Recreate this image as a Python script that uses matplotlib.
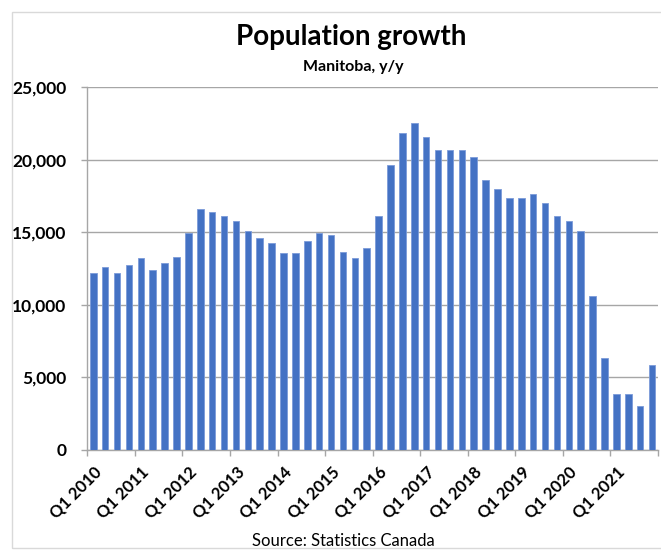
import matplotlib
matplotlib.use("Agg")
import matplotlib.pyplot as plt
from matplotlib.patches import Rectangle
import numpy as np

plt.rcParams['font.family'] = ['Lato', 'DejaVu Sans']

years = list(range(2010, 2022))
quarters = [f"Q{q} {y}" for y in years for q in (1, 2, 3, 4)]
values = [12180, 12610, 12180, 12750, 13210, 12410, 12870, 13330,
          14960, 16610, 16380, 16130, 15790, 15070, 14590, 14250,
          13560, 13560, 14380, 14960, 14820, 13670, 13210, 13900,
          16130, 19650, 21850, 22540, 21600, 20680, 20680, 20680,
          20220, 18590, 17990, 17390, 17390, 17650, 17050, 16130,
          15790, 15070, 10640, 6320, 3860, 3860, 3030, 5860]
yticks = [0, 5000, 10000, 15000, 20000, 25000]

W, H = 661, 550
fig = plt.figure(figsize=(W / 100, H / 100), dpi=100)

# chart-area frame
fig.patches.append(Rectangle((12 / W, 1 - 548 / H), 1.2, (548 - 12) / H,
                             transform=fig.transFigure, fill=False,
                             edgecolor='#d9d9d9', linewidth=1.0))

ax = fig.add_axes([87.3 / W, 1 - 450 / H, (658 - 87.3) / W, (450 - 87.3) / H])
x = np.arange(len(values))
ax.bar(x, values, width=0.55, color='#4472C4', edgecolor='#7b9bd9',
       linewidth=0.6, zorder=3)

ax.set_xlim(-0.5, len(values) - 0.5)
ax.set_ylim(0, 25000)
ax.set_yticks(yticks)
ax.set_yticklabels([f"{v:,}" for v in yticks], fontsize=12.5, fontweight='bold')
ax.grid(axis='y', color='#a6a6a6', linewidth=1.0, zorder=0)
ax.set_axisbelow(True)

for s in ['top', 'right']:
    ax.spines[s].set_visible(False)
for s in ['left', 'bottom']:
    ax.spines[s].set_color('#a6a6a6')
    ax.spines[s].set_linewidth(1.0)

ax.tick_params(axis='y', length=4, color='#a6a6a6', width=1.0, pad=11)

# tick marks at category boundaries every 4 bars
ax.set_xticks(np.arange(-0.5, len(values), 4), minor=True)
ax.tick_params(axis='x', which='minor', length=4, color='#a6a6a6', width=1.0)
label_pos = x[::4]
ax.set_xticks(label_pos)
ax.set_xticklabels([quarters[i] for i in label_pos], fontsize=12,
                   fontweight='bold', rotation=45, ha='right', va='top',
                   rotation_mode='anchor')
ax.tick_params(axis='x', which='major', length=0, pad=10)

fig.text(351 / W, 1 - 37 / H, "Population growth", ha='center', va='center',
         fontsize=20, fontweight='bold')
fig.text(353 / W, 1 - 67 / H, "Manitoba, y/y", ha='center', va='center',
         fontsize=11.5, fontweight='bold')
fig.text(343 / W, 1 - 541 / H, "Source: Statistics Canada", ha='center',
         va='center', fontsize=12)

fig.savefig("out.png", dpi=100)
